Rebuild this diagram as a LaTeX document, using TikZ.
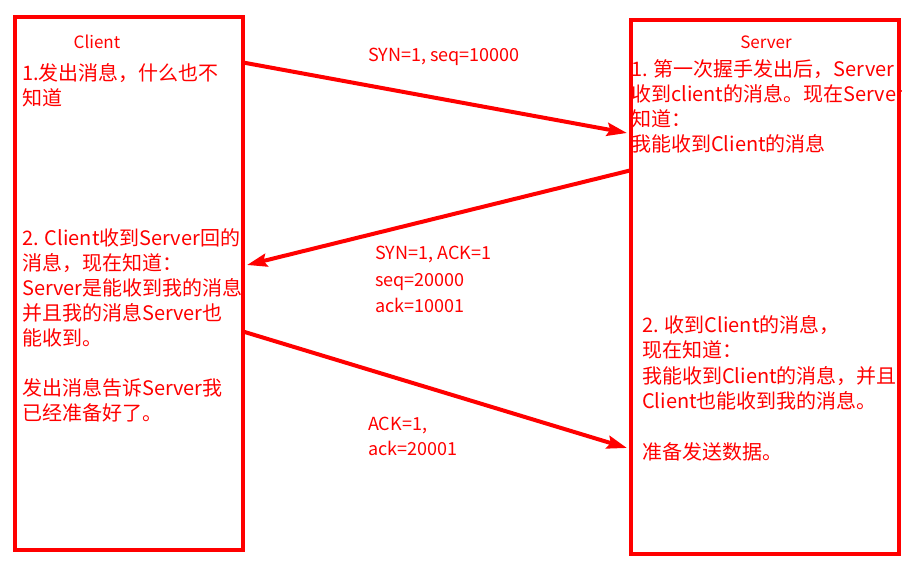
\documentclass[tikz,border=0pt]{standalone}
\usepackage{fontspec}
\setmainfont{Noto Sans CJK SC}
\usetikzlibrary{positioning,arrows.meta}

\begin{document}
\begin{tikzpicture}[x=1pt,y=-1pt,
    box/.style={rectangle,draw=red,line width=4pt,inner sep=0pt},
    note/.style={text=red,anchor=base west,align=left,inner sep=0pt,
      font=\fontsize{20pt}{25pt}\selectfont},
    msg/.style={text=red,anchor=base west,align=left,inner sep=0pt,
      font=\fontsize{18pt}{26.5pt}\selectfont},
    title/.style={text=red,anchor=base,inner sep=0pt,
      font=\fontsize{17pt}{20pt}\selectfont},
    hand/.style={draw=red,line width=4pt,
      -{Stealth[length=20pt,width=13pt,inset=3pt]}}]
  \useasboundingbox (0,0) rectangle (919,569);
  % the two sides
  \node[box,minimum width=228.5pt,minimum height=533pt] (client) at (128.75,283.5) {};
  \node[box,minimum width=268.5pt,minimum height=534.3pt] (server) at (764.75,286.85) {};
  \node[title] (clientname) at (97,49) {Client};
  \node[title] (servername) at (766,49) {Server};
  % what each side knows (placed at the baseline of the last line)
  \node[note] (client1) at (22,105.5) {1.发出消息，什么也不\\知道};
  \node[note] (client2) at (22,420.5) {2. Client收到Server回的\\消息，现在知道：\\Server是能收到我的消息\\并且我的消息Server也\\能收到。\\[25pt]发出消息告诉Server我\\已经准备好了。};
  \begin{scope}
    \clip (server.north west) rectangle (server.south east);
    \node[note] (server1) at (631,151.5) {1. 第一次握手发出后，Server\\收到client的消息。现在Server\\知道：\\我能收到Client的消息};
  \end{scope}
  \node[note,font=\fontsize{20pt}{25.5pt}\selectfont] (server2) at (642,459.5) {2. 收到Client的消息，\\现在知道：\\我能收到Client的消息，并且\\Client也能收到我的消息。\\[25.5pt]准备发送数据。};
  % the three messages
  \coordinate (c1) at (243,62.5);
  \coordinate (s1) at (627,133);
  \coordinate (s2) at (632,170);
  \coordinate (c2) at (247,265);
  \coordinate (c3) at (243,331.5);
  \coordinate (s3) at (627,448);
  \draw[hand] (c1) -- (s1);
  \draw[hand] (s2) -- (c2);
  \draw[hand] (c3) -- (s3);
  \node[msg] (syn) at (368,61.7) {SYN=1, seq=10000};
  \node[msg] (synack) at (375,313) {SYN=1, ACK=1\\seq=20000\\ack=10001};
  \node[msg,font=\fontsize{18pt}{24.5pt}\selectfont] (ack) at (368,455.2) {ACK=1,\\ack=20001};
\end{tikzpicture}
\end{document}
